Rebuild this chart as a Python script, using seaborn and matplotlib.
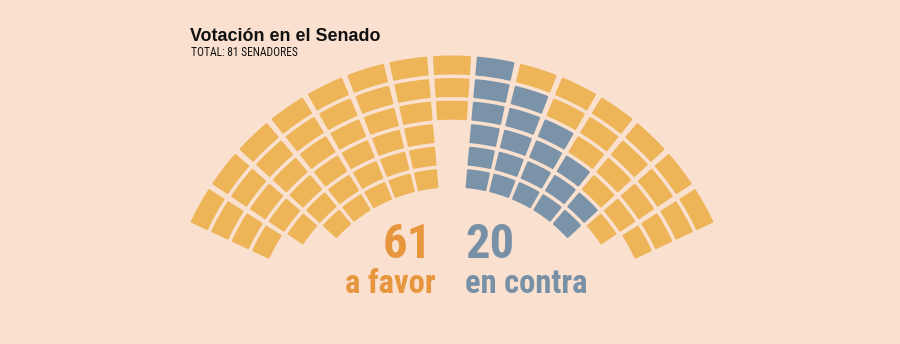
import numpy as np
import matplotlib
matplotlib.use("Agg")
import matplotlib.pyplot as plt
from matplotlib import font_manager
import seaborn as sns

# Seats in each radial block of the hemicycle, left to right
seats_per_block = [4, 5, 6, 6, 6, 6, 6, 3, 6, 6, 6, 6, 6, 5, 4]
# Votes against in each block (they fill the innermost rows of the block)
contra_per_block = [0, 0, 0, 0, 0, 0, 0, 0, 6, 5, 4, 3, 2, 0, 0]

title = "Votación en el Senado"
subtitle_tpl = "TOTAL: {} SENADORES"
label_favor = "a favor"
label_contra = "en contra"

total = sum(seats_per_block)
n_contra = sum(contra_per_block)
n_favor = total - n_contra

# Palette
bg = "#F9E0CF"
favor_seat = "#EDB458"
contra_seat = "#7B93A8"
favor_text = "#E8963E"
contra_text = "#7890A6"


def pick_family(candidates):
    names = {f.name for f in font_manager.fontManager.ttflist}
    for c in candidates:
        if c in names:
            return c
    return "DejaVu Sans"


sns.set_theme(style="white", rc={"figure.facecolor": bg, "savefig.facecolor": bg})
sans = pick_family(["Liberation Sans", "Arial", "DejaVu Sans"])
narrow = pick_family(["Liberation Sans Narrow", "Roboto Condensed",
                      "Open Sans Condensed", "DejaVu Sans"])

W, H = 900, 344
fig = plt.figure(figsize=(W / 100, H / 100), dpi=100)

# Polar axes measured in pixels, centred under the hemicycle
cx, cy, R = 452, 0, 300
ax = fig.add_axes([(cx - R) / W, (cy - R) / H, 2 * R / W, 2 * R / H],
                  projection="polar")

n_blocks = len(seats_per_block)
step = np.deg2rad(8.75)      # angular pitch of the blocks
gap = np.deg2rad(1.15)       # angular gap between blocks
r_outer = 288.5              # outer edge of the first row
pitch = 22.6                 # radial pitch of the rows
depth = 19.0                 # radial depth of a seat
lw = 1.4                     # rounding stroke, points
pad = lw * 100 / 72 / 2

for k, (n, nc) in enumerate(zip(seats_per_block, contra_per_block)):
    theta = np.pi / 2 + ((n_blocks - 1) / 2 - k) * step
    for j in range(n):
        r_hi = r_outer - j * pitch
        r_lo = r_hi - depth
        rm = (r_hi + r_lo) / 2
        colour = contra_seat if j >= n - nc else favor_seat
        width = step - gap - 2 * pad / rm
        ax.bar(theta, depth - 2 * pad, width=width, bottom=r_lo + pad,
               color=colour, edgecolor=colour, linewidth=lw,
               joinstyle="round", align="center")

ax.set_ylim(0, R)
ax.set_axis_off()


def fx(x):
    return x / W


def fy(y):
    return 1 - y / H


fig.text(fx(190), fy(40.7), title, fontsize=12.9, fontweight="bold",
         family=sans, color="#111111", ha="left", va="baseline")
fig.text(fx(191), fy(55.5), subtitle_tpl.format(total), fontsize=8.3,
         family=narrow, fontstretch="condensed", color="#111111",
         ha="left", va="baseline")

fig.text(fx(432), fy(258), str(n_favor), fontsize=35, fontweight="bold",
         family=narrow, fontstretch="condensed", color=favor_text,
         ha="right", va="baseline")
fig.text(fx(436), fy(293), label_favor, fontsize=23.5, fontweight="bold",
         family=narrow, fontstretch="condensed", color=favor_text,
         ha="right", va="baseline")
fig.text(fx(465), fy(258), str(n_contra), fontsize=35, fontweight="bold",
         family=narrow, fontstretch="condensed", color=contra_text,
         ha="left", va="baseline")
fig.text(fx(465), fy(293), label_contra, fontsize=23.5, fontweight="bold",
         family=narrow, fontstretch="condensed", color=contra_text,
         ha="left", va="baseline")

fig.savefig("out.png", dpi=100, facecolor=bg)
